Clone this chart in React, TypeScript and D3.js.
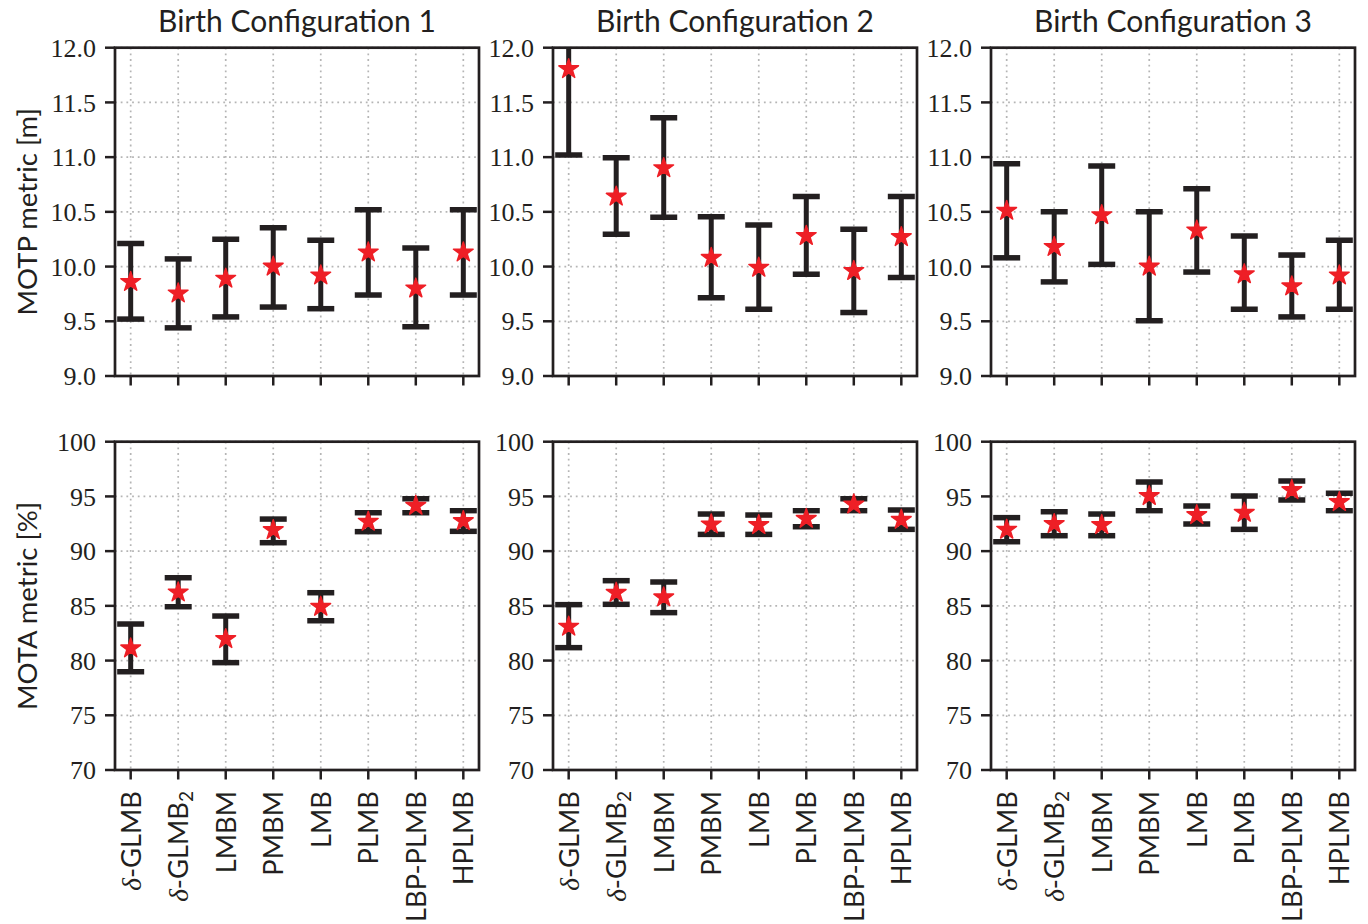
import { useEffect, useRef } from "react";
import * as d3 from "d3";

const methods = ["δ-GLMB", "δ-GLMB2", "LMBM", "PMBM", "LMB", "PLMB", "LBP-PLMB", "HPLMB"];
const configs = ["Birth Configuration 1", "Birth Configuration 2", "Birth Configuration 3"];

// MOTP [m]: mean, lower, upper for each birth configuration
const motpMean1 = [9.86, 9.755, 9.89, 10.0, 9.92, 10.13, 9.8, 10.13];
const motpLow1 = [9.52, 9.44, 9.54, 9.63, 9.615, 9.74, 9.45, 9.74];
const motpHigh1 = [10.21, 10.07, 10.25, 10.355, 10.24, 10.52, 10.17, 10.52];

const motpMean2 = [11.805, 10.64, 10.9, 10.08, 9.99, 10.28, 9.96, 10.27];
const motpLow2 = [11.02, 10.295, 10.45, 9.715, 9.61, 9.93, 9.58, 9.9];
const motpHigh2 = [12.59, 10.995, 11.36, 10.456, 10.38, 10.64, 10.34, 10.64];

const motpMean3 = [10.51, 10.18, 10.47, 10.0, 10.33, 9.93, 9.82, 9.92];
const motpLow3 = [10.08, 9.86, 10.02, 9.505, 9.95, 9.61, 9.54, 9.61];
const motpHigh3 = [10.94, 10.5, 10.92, 10.5, 10.71, 10.28, 10.105, 10.24];

// MOTA [%]
const motaMean1 = [81.12, 86.23, 81.97, 91.93, 84.92, 92.69, 94.15, 92.75];
const motaLow1 = [78.98, 84.92, 79.81, 90.77, 83.64, 91.78, 93.51, 91.81];
const motaHigh1 = [83.34, 87.57, 84.07, 92.93, 86.2, 93.51, 94.79, 93.7];

const motaMean2 = [83.1, 86.2, 85.78, 92.45, 92.39, 92.96, 94.27, 92.87];
const motaLow2 = [81.18, 85.14, 84.38, 91.53, 91.53, 92.23, 93.7, 91.99];
const motaHigh2 = [85.11, 87.3, 87.18, 93.39, 93.3, 93.7, 94.79, 93.76];

const motaMean3 = [91.96, 92.48, 92.39, 95.04, 93.3, 93.51, 95.58, 94.49];
const motaLow3 = [90.86, 91.41, 91.41, 93.7, 92.48, 91.99, 94.67, 93.7];
const motaHigh3 = [93.06, 93.6, 93.39, 96.31, 94.12, 95.04, 96.41, 95.28];

const motpTicks = [9.0, 9.5, 10.0, 10.5, 11.0, 11.5, 12.0];
const motaTicks = [70, 75, 80, 85, 90, 95, 100];

const SANS = "Lato, 'Open Sans', sans-serif";
const SERIF = "'Liberation Serif', 'DejaVu Serif', serif";
const INK = "#231f20";

const App = () => {
  const ref = useRef<SVGSVGElement>(null);

  useEffect(() => {
    const width = 1368, height = 924;
    const svg = d3.select(ref.current).html("").attr("width", width).attr("height", height);

    const panelLeft = [115, 553, 991];
    const panelW = 364;

    const rows = [
      {
        top: 47.7, bottom: 376, domain: [9, 12], ticks: motpTicks, fmt: d3.format(".1f"),
        label: "MOTP metric [m]",
        data: [[motpMean1, motpLow1, motpHigh1], [motpMean2, motpLow2, motpHigh2], [motpMean3, motpLow3, motpHigh3]],
      },
      {
        top: 441.7, bottom: 770, domain: [70, 100], ticks: motaTicks, fmt: d3.format("d"),
        label: "MOTA metric [%]",
        data: [[motaMean1, motaLow1, motaHigh1], [motaMean2, motaLow2, motaHigh2], [motaMean3, motaLow3, motaHigh3]],
      },
    ];

    const star = d3.symbol().type(d3.symbolStar).size(120);

    rows.forEach((row, ri) => {
      const y = d3.scaleLinear().domain(row.domain).range([row.bottom, row.top]);

      svg.append("text")
        .attr("transform", `translate(37, ${(row.top + row.bottom) / 2}) rotate(-90)`)
        .attr("text-anchor", "middle")
        .attr("font-family", SANS)
        .attr("font-size", 27.5)
        .attr("fill", INK)
        .text(row.label);

      panelLeft.forEach((x0, pi) => {
        const x = d3.scaleLinear().domain([-0.33, 7.33]).range([x0, x0 + panelW]);
        const g = svg.append("g");
        const clipId = `clip-${ri}-${pi}`;
        g.append("clipPath").attr("id", clipId)
          .append("rect")
          .attr("x", x0).attr("y", row.top)
          .attr("width", panelW).attr("height", row.bottom - row.top);

        // grid
        g.selectAll(".gy").data(row.ticks).enter().append("line")
          .attr("x1", x0).attr("x2", x0 + panelW)
          .attr("y1", d => y(d)).attr("y2", d => y(d))
          .attr("stroke", "#b5b5b5").attr("stroke-width", 1.7)
          .attr("stroke-dasharray", "1.8,3.9");
        g.selectAll(".gx").data(methods).enter().append("line")
          .attr("x1", (_, i) => x(i)).attr("x2", (_, i) => x(i))
          .attr("y1", row.top).attr("y2", row.bottom)
          .attr("stroke", "#b5b5b5").attr("stroke-width", 1.7)
          .attr("stroke-dasharray", "1.8,3.9");

        const [mean, low, high] = row.data[pi];
        const marks = g.append("g").attr("clip-path", `url(#${clipId})`);
        methods.forEach((_, i) => {
          marks.append("line")
            .attr("x1", x(i)).attr("x2", x(i))
            .attr("y1", y(low[i])).attr("y2", y(high[i]))
            .attr("stroke", INK).attr("stroke-width", 5);
          [low[i], high[i]].forEach(v => {
            marks.append("line")
              .attr("x1", x(i) - 13.5).attr("x2", x(i) + 13.5)
              .attr("y1", y(v)).attr("y2", y(v))
              .attr("stroke", INK).attr("stroke-width", 5.5);
          });
          marks.append("path")
            .attr("d", star)
            .attr("transform", `translate(${x(i)}, ${y(mean[i])})`)
            .attr("fill", "#ee1f26")
            .attr("stroke", "#ee1f26")
            .attr("stroke-width", 1.5)
            .attr("stroke-linejoin", "round");
        });

        // spines
        g.append("rect")
          .attr("x", x0).attr("y", row.top)
          .attr("width", panelW).attr("height", row.bottom - row.top)
          .attr("fill", "none").attr("stroke", INK).attr("stroke-width", 2.7);

        // y ticks
        row.ticks.forEach(t => {
          g.append("line")
            .attr("x1", x0 - 10).attr("x2", x0)
            .attr("y1", y(t)).attr("y2", y(t))
            .attr("stroke", INK).attr("stroke-width", 2.5);
          g.append("text")
            .attr("x", x0 - 19).attr("y", y(t)).attr("dy", "0.35em")
            .attr("text-anchor", "end")
            .attr("font-family", SERIF).attr("font-size", 26)
            .attr("fill", INK)
            .text(row.fmt(t));
        });

        // x ticks
        methods.forEach((m, i) => {
          g.append("line")
            .attr("x1", x(i)).attr("x2", x(i))
            .attr("y1", row.bottom).attr("y2", row.bottom + 9.5)
            .attr("stroke", INK).attr("stroke-width", 2.5);
          if (ri === 1) {
            const t = g.append("text")
              .attr("transform", `translate(${x(i)}, 791) rotate(-90)`)
              .attr("dy", "0.36em")
              .attr("text-anchor", "end")
              .attr("font-family", SANS).attr("font-size", 27.3)
              .attr("fill", INK);
            if (m.startsWith("δ")) {
              t.append("tspan").attr("font-family", SERIF).attr("font-style", "italic").text("δ");
              t.append("tspan").text("-GLMB");
              if (m.endsWith("2")) {
                t.append("tspan").attr("dy", 5).attr("font-size", 19).text("2");
              }
            } else {
              t.text(m);
            }
          }
        });

        if (ri === 0) {
          svg.append("text")
            .attr("x", x0 + panelW / 2).attr("y", 31.5)
            .attr("text-anchor", "middle")
            .attr("font-family", SANS).attr("font-size", 30)
            .attr("fill", INK)
            .text(configs[pi]);
        }
      });
    });
  }, []);

  return <svg ref={ref} style={{ position: "absolute", left: 0, top: 0 }}></svg>;
};

export default App;
